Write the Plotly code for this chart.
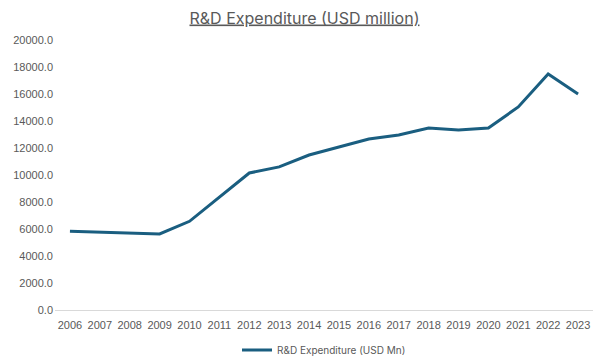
import plotly.graph_objects as go

years = [str(y) for y in range(2006, 2024)]
rd_expenditure = [5830, 5770, 5700, 5630, 6570, 8350, 10150, 10600, 11480, 12070,
                  12670, 12960, 13480, 13330, 13480, 15040, 17480, 16000]
y_ticks = [0, 2000, 4000, 6000, 8000, 10000, 12000, 14000, 16000, 18000, 20000]

fig = go.Figure()
fig.add_trace(go.Scatter(
    x=years, y=rd_expenditure, mode="lines",
    name="R&D Expenditure (USD Mn)",
    line=dict(color="#1A5E80", width=3),
))

# the page body has an 8px default margin, so the figure is sized 8px smaller
fig.update_layout(
    width=593, height=354,
    paper_bgcolor="white", plot_bgcolor="white",
    margin=dict(l=47, r=8, t=32, b=52, autoexpand=False),
    title=dict(text="<u>R&D Expenditure (USD million)</u>", x=0.5, xanchor="center",
               yref="container", y=0.972, yanchor="middle",
               font=dict(family="Inter, Lato, sans-serif", size=16, color="#595959")),
    font=dict(family="Liberation Sans, Arial, sans-serif", color="#595959", size=11),
    xaxis=dict(type="category", range=[-0.5, 17.5], showgrid=False, automargin=False,
               showline=True, linecolor="#D9D9D9", linewidth=1, ticks="",
               ticklabelstandoff=5,
               tickfont=dict(size=11, color="#595959"), fixedrange=True),
    yaxis=dict(range=[0, 20000], tickvals=y_ticks, tickformat=".1f", automargin=False,
               showgrid=False, zeroline=False, showline=False, ticks="",
               ticklabelstandoff=1,
               tickfont=dict(size=11, color="#595959")),
    showlegend=True,
    legend=dict(orientation="h", x=0.5, xanchor="center", y=-0.148, yanchor="middle",
                itemwidth=30,
                font=dict(family="Inter, Lato, sans-serif", size=10, color="#595959")),
)

fig.write_html("out.html")
